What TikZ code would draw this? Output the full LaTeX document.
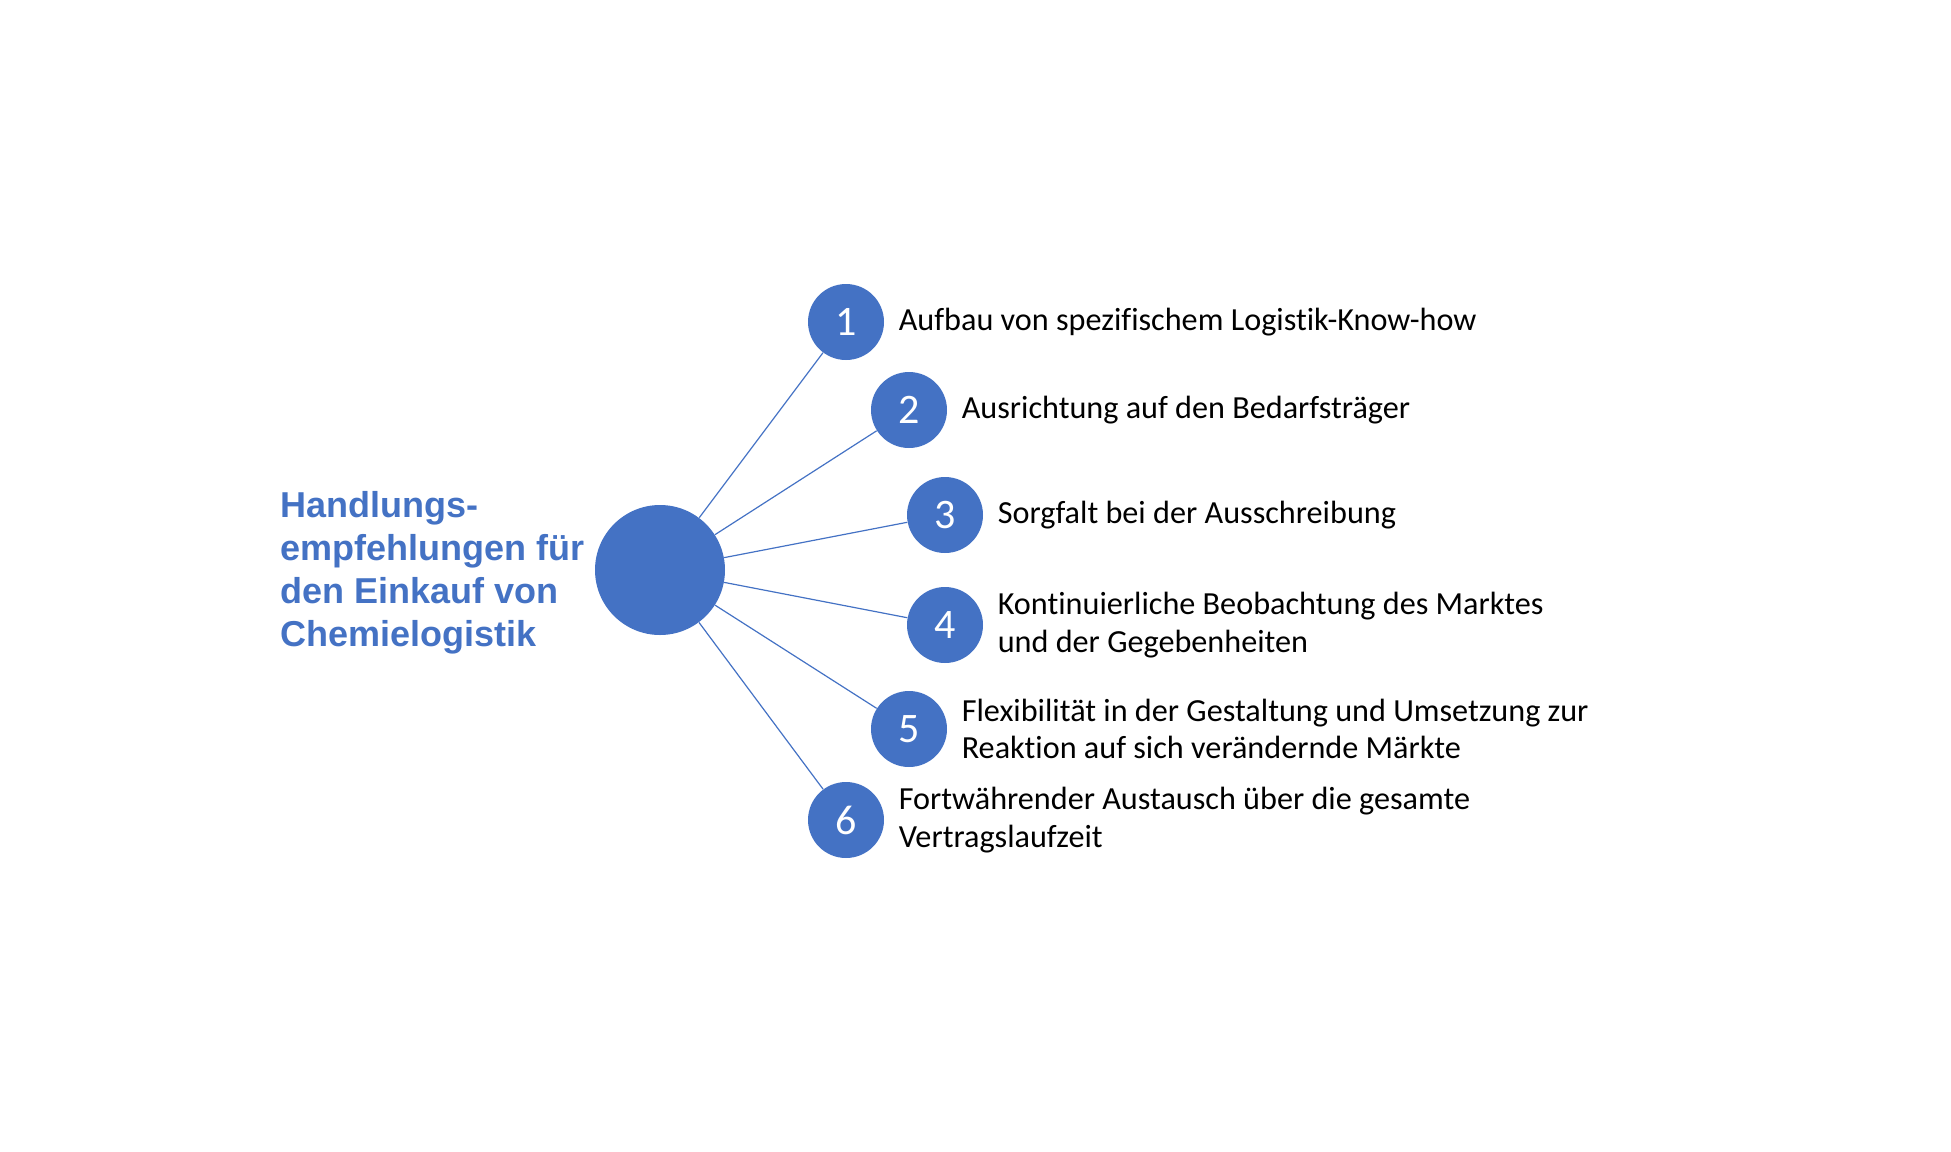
\documentclass[tikz,border=0pt]{standalone}
\usepackage{fontspec}
\setmainfont{Carlito}[Ligatures=NoCommon]
\newfontfamily\titlefont{Liberation Sans}
\usetikzlibrary{positioning}
\definecolor{hblue}{RGB}{68,114,196}

\begin{document}
\begin{tikzpicture}[x=0.5pt,y=-0.5pt,
    hub/.style={circle,fill=hblue,minimum size=65pt,inner sep=0pt},
    num/.style={circle,fill=hblue,minimum size=38pt,inner sep=0pt,text=white,font=\fontsize{21}{21}\selectfont},
    item/.style={right=7pt of #1,align=left,inner sep=0pt,font=\fontsize{16.1}{18.75}\selectfont},
    spoke/.style={hblue,line width=0.6pt}]
    \useasboundingbox (0,0) rectangle (1951,1152);
    \node [anchor=west,align=left,inner sep=0pt,text=hblue,font=\titlefont\bfseries\fontsize{18}{21.5}\selectfont] (title) at (280,573) {Handlungs-\\empfehlungen für\\den Einkauf von\\Chemielogistik};
    \node [hub] (hub) at (660,570) {};
    \node [num] (n1) at (846,322) {1};
    \node [num] (n2) at (909,410) {2};
    \node [num] (n3) at (945,515) {3};
    \node [num] (n4) at (945,625) {4};
    \node [num] (n5) at (909,729) {5};
    \node [num] (n6) at (846,820) {6};
    \node [item=n1] (t1) {Aufbau von spezifischem Logistik-Know-how};
    \node [item=n2] (t2) {Ausrichtung auf den Bedarfsträger};
    \node [item=n3] (t3) {Sorgfalt bei der Ausschreibung};
    \node [item=n4] (t4) {Kontinuierliche Beobachtung des Marktes\\und der Gegebenheiten};
    \node [item=n5] (t5) {Flexibilität in der Gestaltung und Umsetzung zur\\Reaktion auf sich verändernde Märkte};
    \node [item=n6] (t6) {Fortwährender Austausch über die gesamte\\Vertragslaufzeit};
    \foreach \i in {1,...,6}
        \draw [spoke] (hub) -- (n\i);
\end{tikzpicture}
\end{document}
